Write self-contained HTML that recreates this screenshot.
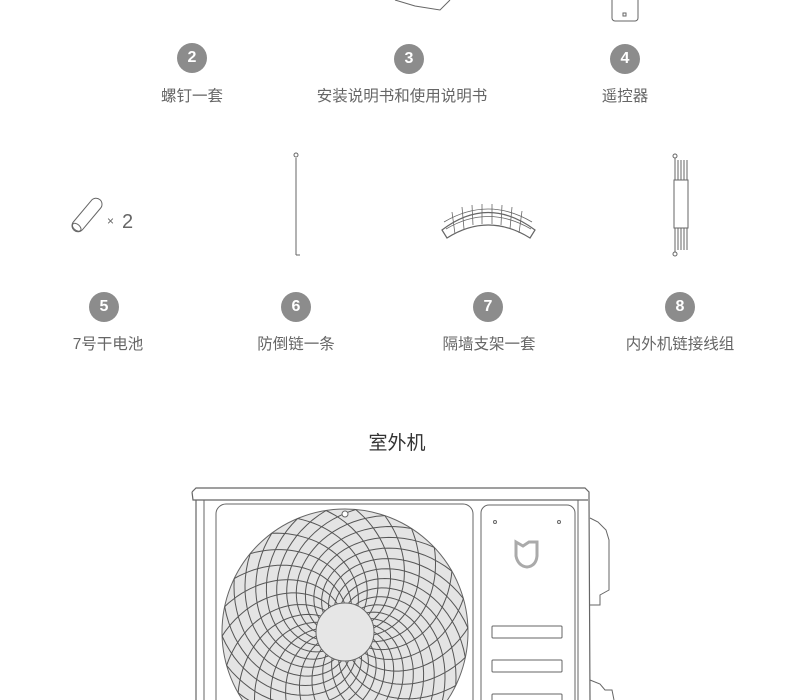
<!DOCTYPE html>
<html><head><meta charset="utf-8"><style>
html,body{margin:0;width:790px;height:700px;overflow:hidden}
body{background:#fff;position:relative;font-family:"Liberation Sans","Noto Sans CJK SC",sans-serif}
.c{position:absolute;width:30px;height:30px;border-radius:50%;background:#8c8c8c;color:#fff;font-weight:bold;font-size:16px;line-height:30px;text-align:center}
.l{position:absolute;width:240px;text-align:center;color:#666;font-size:15.5px;line-height:20px}
</style></head><body>
<div class="c" style="left:177px;top:43px">2</div>
<div class="c" style="left:394px;top:44px">3</div>
<div class="c" style="left:610px;top:44px">4</div>
<div class="c" style="left:89px;top:292px">5</div>
<div class="c" style="left:281px;top:292px">6</div>
<div class="c" style="left:473px;top:292px">7</div>
<div class="c" style="left:665px;top:292px">8</div>
<div class="l" style="left:72px;top:87px">螺钉一套</div>
<div class="l" style="left:282px;top:87px">安装说明书和使用说明书</div>
<div class="l" style="left:505px;top:87px">遥控器</div>
<div class="l" style="left:-12px;top:335px">7号干电池</div>
<div class="l" style="left:176px;top:335px">防倒链一条</div>
<div class="l" style="left:369px;top:335px">隔墙支架一套</div>
<div class="l" style="left:560px;top:335px">内外机链接线组</div>
<div style="position:absolute;left:297px;top:428px;width:200px;text-align:center;font-size:19px;color:#333">室外机</div>
<svg width="790" height="700" style="position:absolute;left:0;top:0" fill="none" stroke="#666" stroke-width="1">
<path d="M395 0 L415 6 L440 10 L450 0" />
<rect x="612" y="-10" width="26" height="31" rx="3"/>
<rect x="623" y="13" width="3" height="3"/>
<g transform="translate(87,215) rotate(-50)"><rect x="-20" y="-6" width="40" height="12" rx="6"/><ellipse cx="-16" cy="0" rx="3" ry="5"/></g>
<text x="107" y="225" fill="#666" stroke="none" font-size="12">×</text>
<text x="122" y="228" fill="#666" stroke="none" font-size="20" font-family="Liberation Sans">2</text>
<circle cx="296" cy="155" r="2"/><line x1="296" y1="158" x2="296" y2="255"/><path d="M296 255 H300"/>
<path d="M442 230 Q488 195 535 230 L530 238 Q488 212 447 238 Z" stroke-width="1.2"/>
<path d="M444 222 Q488 196 532 222 M446 229 Q488 204 531 229" stroke-width=".8"/>
<path d="M452 212 l3 22 M462 207 l2 22 M472 205 l1 20 M482 204 v20 M492 204 v20 M502 205 l-1 20 M512 207 l-2 22 M522 211 l-3 22" stroke-width=".8"/>
<circle cx="675" cy="156" r="2"/><circle cx="675" cy="254" r="2"/>
<path d="M675 158 V252 M678 160 V250 M681 160 V250 M684 160 V250 M687 160 V250"/>
<rect x="674" y="180" width="14" height="48" fill="#fff"/>
<path d="M192 492 L196 488 L585 488 L589 492 L589 498 L590 700 M192 492 L193 500 L196 500 L196 700 M196 500 L588 500" stroke-width="1.2"/>
<path d="M204 500 V700 M578 500 V700"/>
<rect x="216" y="504" width="257" height="230" rx="10"/>
<rect x="481" y="505" width="94" height="230" rx="8"/>
<circle cx="495" cy="522" r="1.5"/><circle cx="559" cy="522" r="1.5"/>
<path d="M516 542 L523 546 L529 542 L537 542 L537 556 Q536 566 527 567 Q518 566 516 556 Z" stroke="#aaa" stroke-width="3"/>
<rect x="492" y="626" width="70" height="12" rx="1"/>
<rect x="492" y="660" width="70" height="12" rx="1"/>
<rect x="492" y="694" width="70" height="12" rx="1"/>
<path d="M590 518 L598 522 L606 530 L609 540 L609 590 L600 595 L600 605 L590 605"/>
<path d="M590 680 L600 684 L605 690 L612 690 L614 700"/>
<circle cx="345" cy="632" r="123" fill="#e4e4e4"/>
<g id="sp" stroke="#555" stroke-width="1"></g>
<circle cx="345" cy="632" r="29" fill="#e6e6e6"/>
<circle cx="345" cy="514" r="3" fill="#fff"/>
</svg>
<script>
var g=document.getElementById('sp'),s='';
function sp(a0,dir,tw){var d='';for(var i=0;i<=30;i++){var t=i/30,r=29+94*t,a=a0+dir*tw*t;d+=(i?'L':'M')+(345+r*Math.cos(a)).toFixed(1)+' '+(632+r*Math.sin(a)).toFixed(1);}return '<path d="'+d+'"/>';}
for(var k=0;k<26;k++){var a=k*2*Math.PI/26;s+=sp(a,1,1.9);s+=sp(a+0.1,-1,1.1);}
g.innerHTML=s;
</script>
</body></html>
